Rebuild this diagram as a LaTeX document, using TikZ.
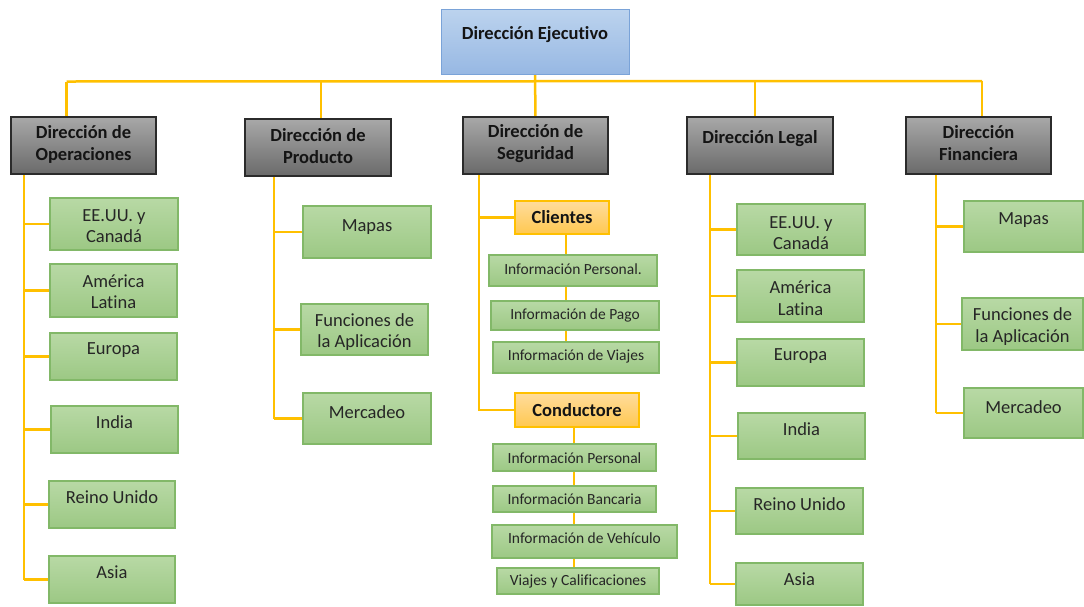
\documentclass[tikz,border=0pt]{standalone}
\usepackage{fontspec}
\setmainfont{Carlito}[Ligatures=NoCommon]
\usetikzlibrary{calc}
\pgfdeclarelayer{bg}
\pgfsetlayers{bg,main}

\definecolor{wire}{HTML}{FFC000}
\definecolor{bluetop}{HTML}{BCD3EE}
\definecolor{bluebot}{HTML}{97B8E3}
\definecolor{blueedge}{HTML}{7AA3D8}
\definecolor{graytop}{HTML}{A8A8A8}
\definecolor{graybot}{HTML}{6A6A6A}
\definecolor{grayedge}{HTML}{2B2B2B}
\definecolor{greentop}{HTML}{B8D9A5}
\definecolor{greenbot}{HTML}{9CC884}
\definecolor{greenedge}{HTML}{82B868}
\definecolor{orangetop}{HTML}{FFDC9C}
\definecolor{orangebot}{HTML}{FFC850}
\definecolor{inktext}{HTML}{141414}
\definecolor{leaftext}{HTML}{262626}

\tikzset{
  boxbase/.style={rectangle, inner sep=0pt, outer sep=0pt},
  exec/.style={boxbase, top color=bluetop, bottom color=bluebot, draw=blueedge, line width=1pt},
  head/.style={boxbase, top color=graytop, bottom color=graybot, draw=grayedge, line width=1.4pt},
  leaf/.style={boxbase, top color=greentop, bottom color=greenbot, draw=greenedge, line width=1.2pt},
  group/.style={boxbase, top color=orangetop, bottom color=orangebot, draw=wire, line width=1.4pt},
  small/.style={leaf},
  exectxt/.style={align=center, inner sep=0pt, text=inktext, font=\fontsize{18.5}{22}\selectfont\bfseries},
  headtxt/.style={exectxt},
  grouptxt/.style={exectxt},
  leaftxt/.style={align=center, inner sep=0pt, text=leaftext, font=\fontsize{18.5}{21.5}\selectfont},
  smalltxt/.style={align=center, inner sep=0pt, text=leaftext, font=\fontsize{15.5}{18}\selectfont},
  wireline/.style={draw=wire, line width=2.5pt},
}

% box with style #1, name #2, corners (#3,#4)-(#5,#6), text centred at height #7
\newcommand\orgbox[8]{%
  \node[#1, minimum width={(#5)-(#3)}, minimum height={(#6)-(#4)}] (#2)
    at ({((#3)+(#5))/2},{((#4)+(#6))/2}) {};
  \node[#1txt] (#2t) at ({((#3)+(#5))/2},#7) {#8};}

\begin{document}
\begin{tikzpicture}[x=1pt,y=-1pt]
\useasboundingbox (0,0) rectangle (1084,606);

% top level
\orgbox{exec}{ceo}{441}{9}{629}{74}{35}{Dirección Ejecutivo}

% directors
\orgbox{head}{ops}{11}{117}{156}{174}{144}{Dirección de\\Operaciones}
\orgbox{head}{prod}{245}{119}{391}{176}{146}{Dirección de\\Producto}
\orgbox{head}{seg}{463}{117}{608}{174}{144}{Dirección de\\Seguridad}
\orgbox{head}{leg}{687}{117}{833}{174}{139}{Dirección Legal}
\orgbox{head}{fin}{906}{117}{1051}{174}{143.5}{Dirección\\Financiera}

% operations regions
\orgbox{leaf}{o1}{50}{198}{178}{250}{226}{EE.UU. y\\Canadá}
\orgbox{leaf}{o2}{50}{264}{177}{317}{291.7}{América\\Latina}
\orgbox{leaf}{o3}{50}{333}{177}{380}{350}{Europa}
\orgbox{leaf}{o4}{51}{406}{178}{453}{422}{India}
\orgbox{leaf}{o5}{49}{481}{175}{528}{497}{Reino Unido}
\orgbox{leaf}{o6}{49}{556}{175}{603}{572}{Asia}

% product areas
\orgbox{leaf}{p1}{303}{206}{431}{258}{226.7}{Mapas}
\orgbox{leaf}{p2}{301}{304}{428}{355}{332.2}{Funciones de\\la Aplicación}
\orgbox{leaf}{p3}{303}{393}{431}{444}{412.3}{Mercadeo}

% security groups
\orgbox{group}{cli}{515}{201}{609}{234}{216.7}{Clientes}
\orgbox{small}{s1}{489}{255}{657}{286}{269.3}{Información Personal.}
\orgbox{small}{s2}{491}{301}{659}{330}{315}{Información de Pago}
\orgbox{small}{s3}{493}{342}{659}{373}{356.7}{Información de Viajes}
\orgbox{group}{cond}{515}{393}{639}{427}{410}{Conductore}
\orgbox{small}{c1}{493}{444}{656}{471}{458}{Información Personal}
\orgbox{small}{c2}{493}{486}{656}{512}{499}{Información Bancaria}
\orgbox{small}{c3}{492}{525}{677}{558}{538.3}{Información de Vehículo}
\orgbox{small}{c4}{497}{568}{659}{594}{581}{Viajes y Calificaciones}

% legal regions
\orgbox{leaf}{l1}{737}{204}{865}{255}{233}{EE.UU. y\\Canadá}
\orgbox{leaf}{l2}{737}{270}{864}{322}{298.3}{América\\Latina}
\orgbox{leaf}{l3}{737}{339}{864}{386}{355.7}{Europa}
\orgbox{leaf}{l4}{738}{413}{865}{459}{429.3}{India}
\orgbox{leaf}{l5}{736}{488}{863}{534}{504.3}{Reino Unido}
\orgbox{leaf}{l6}{736}{563}{863}{605}{579.3}{Asia}

% finance areas
\orgbox{leaf}{f1}{964}{201}{1083}{252}{220}{Mapas}
\orgbox{leaf}{f2}{962}{298}{1083}{350}{326.5}{Funciones de\\la Aplicación}
\orgbox{leaf}{f3}{964}{388}{1083}{438}{406.7}{Mercadeo}

% connectors, behind the boxes
\begin{pgfonlayer}{bg}
  \coordinate (busL) at (66.5,81.5);
  \coordinate (busR) at (982,81);
  \coordinate (jprod) at (321,81.5);
  \coordinate (jleg) at (755,81);
  \draw[wireline] (busL) -- (busR);
  \draw[wireline] (ceo.south) -- (seg.north);
  \draw[wireline] (busL) -- (busL |- ops.north);
  \draw[wireline] (jprod) -- (jprod |- prod.north);
  \draw[wireline] (jleg) -- (jleg |- leg.north);
  \draw[wireline] (busR) -- (busR |- fin.north);

  % operations spine
  \coordinate (opsS) at (24,174);
  \draw[wireline] (opsS) -- (opsS |- o6.west);
  \foreach \c in {o1,o2,o3,o4,o5,o6} \draw[wireline] (opsS |- \c.west) -- (\c.west);

  % product spine
  \coordinate (prodS) at (274,176);
  \draw[wireline] (prodS) -- (prodS |- p3.west);
  \foreach \c in {p1,p2,p3} \draw[wireline] (prodS |- \c.west) -- (\c.west);

  % security spine and chains
  \coordinate (segS) at (479,174);
  \draw[wireline] (segS) |- (cond.west);
  \draw[wireline] (segS |- cli.west) -- (cli.west);
  \coordinate (cliX) at (566,0);
  \draw[wireline] (cliX |- cli.south) -- (cliX |- s3.north);
  \coordinate (condX) at (574,0);
  \draw[wireline] (condX |- cond.south) -- (condX |- c4.north);

  % legal spine
  \coordinate (legS) at (710,174);
  \draw[wireline] (legS) -- (legS |- l6.west);
  \foreach \c in {l1,l2,l3,l4,l5,l6} \draw[wireline] (legS |- \c.west) -- (\c.west);

  % finance spine
  \coordinate (finS) at (936,174);
  \draw[wireline] (finS) -- (finS |- f3.west);
  \foreach \c in {f1,f2,f3} \draw[wireline] (finS |- \c.west) -- (\c.west);
\end{pgfonlayer}
\end{tikzpicture}
\end{document}
